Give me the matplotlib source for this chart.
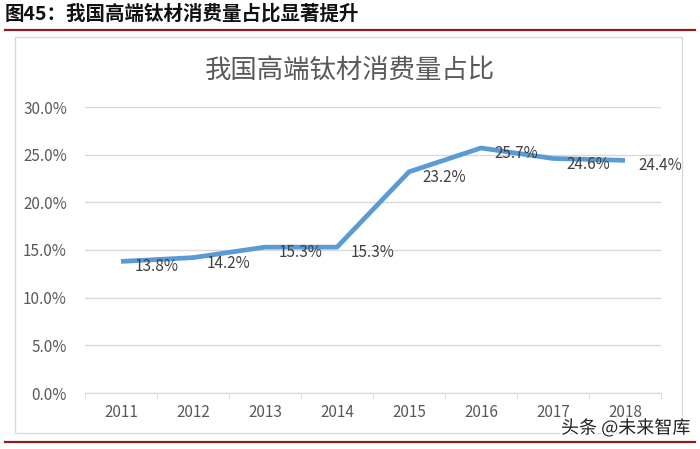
import matplotlib
matplotlib.use("Agg")
import matplotlib.pyplot as plt
import matplotlib.patheffects as pe
from matplotlib.patches import Rectangle
from matplotlib.lines import Line2D
import numpy as np

plt.rcParams['font.family'] = ['Noto Sans CJK SC', 'DejaVu Sans']

# data
years = ["2011", "2012", "2013", "2014", "2015", "2016", "2017", "2018"]
share = [13.8, 14.2, 15.3, 15.3, 23.2, 25.7, 24.6, 24.4]
yticks = [0, 5, 10, 15, 20, 25, 30]

W, H = 700, 449
fig = plt.figure(figsize=(W / 100, H / 100), dpi=100)

def fx(px):
    return px / W

def fy(py):
    return 1 - py / H

# header and rules
fig.text(fx(5), fy(14), "图45：我国高端钛材消费量占比显著提升", fontsize=14,
         fontweight="bold", va="center", ha="left", color="#111111")
fig.add_artist(Line2D([fx(5), fx(695)], [fy(30), fy(30)], color="#8B1C24", lw=1.6))
fig.add_artist(Line2D([fx(5), fx(695)], [fy(442), fy(442)], color="#8B1C24", lw=1.6))

# chart border
fig.add_artist(Rectangle((fx(15), fy(433)), fx(682 - 15), fy(37) - fy(433),
                         fill=False, edgecolor="#D9D9D9", lw=1.0))

fig.text(0.5, fy(70), "我国高端钛材消费量占比", fontsize=19, ha="center",
         va="center", color="#595959")

# plot area: 8 category bins from x=85 to 661, y 0..30 from 393 to 107
ax = fig.add_axes([fx(85), fy(393), fx(661 - 85), fy(107) - fy(393)])
x = np.arange(len(years))
ax.plot(x, share, color="#5B9BD5", lw=3.4, solid_capstyle="butt", zorder=3)
ax.set_xlim(-0.5, len(years) - 0.5)
ax.set_ylim(0, 30)
ax.set_yticks(yticks)
ax.set_yticklabels(["%.1f%%" % v for v in yticks], fontsize=11, color="#595959")
ax.yaxis.grid(True, color="#D9D9D9", lw=1.0)
ax.set_axisbelow(True)
ax.tick_params(axis="y", length=0, pad=13)

ax.set_xticks(x)
ax.set_xticklabels(years, fontsize=11, color="#595959")
ax.set_xticks(np.arange(-0.5, len(years), 1), minor=True)
ax.tick_params(axis="x", which="major", length=0, pad=8)
ax.tick_params(axis="x", which="minor", length=4, color="#D9D9D9", direction="out")
for s in ["top", "right", "left"]:
    ax.spines[s].set_visible(False)
ax.spines["bottom"].set_color("#D9D9D9")
ax.patch.set_alpha(0)

for xi, v in zip(x, share):
    ax.annotate("%.1f%%" % v, (xi, v), xytext=(10, -4), textcoords="offset points",
                ha="left", va="center", fontsize=11, color="#404040", zorder=4)

# watermark
fig.text(fx(690), fy(428), "头条 @未来智库", fontsize=13, ha="right", va="center",
         color="#222222",
         path_effects=[pe.withStroke(linewidth=2.5, foreground="white")])

fig.savefig("out.png", dpi=100)
